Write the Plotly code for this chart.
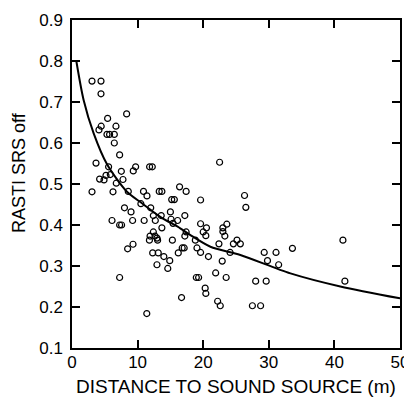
import plotly.graph_objects as go

# Scatter data: distance to sound source (m) and RASTI (SRS off)
distance = [3.05, 4.42, 4.42, 8.33, 5.43, 6.7, 4.45, 4.11, 5.33, 5.73, 6.45, 6.45, 7.26, 3.66, 5.58,
            7.52, 9.34, 9.7, 11.83, 12.24, 4.21, 4.88, 5.18, 5.84, 7.77, 6.75, 3.05, 6.25, 8.58, 10.9,
            11.43, 13.3, 13.7, 16.4, 17.4, 19.6, 15.2, 15.6, 10.5, 12.0, 8.0, 9.0, 15.0, 13.6, 12.4,
            17.2, 6.1, 7.26, 7.56, 9.24, 11.0, 12.7, 15.1, 15.4, 16.1, 19.6, 20.5, 20.0, 20.4, 13.7,
            17.4, 12.4, 11.9, 12.65, 12.96, 11.8, 13.05, 15.3, 17.2, 18.8, 19.05, 19.6, 20.8, 8.48, 9.3,
            12.3, 13.15, 14.0, 12.95, 14.9, 14.6, 16.2, 16.8, 17.1, 7.26, 18.95, 19.3, 20.3, 20.4, 16.7,
            11.4, 22.5, 26.3, 26.5, 23.0, 23.6, 23.0, 23.3, 25.15, 24.6, 25.66, 22.4, 24.1, 22.9, 29.3,
            31.1, 33.6, 29.8, 31.5, 21.9, 23.5, 28.0, 29.6, 22.2, 22.6, 27.5, 28.75, 41.3, 41.6]
rasti = [0.751, 0.751, 0.72, 0.671, 0.66, 0.641, 0.641, 0.632, 0.621, 0.621, 0.621, 0.60, 0.571, 0.551, 0.542,
         0.531, 0.532, 0.542, 0.542, 0.542, 0.512, 0.51, 0.521, 0.523, 0.511, 0.502, 0.481, 0.481, 0.482, 0.482,
         0.471, 0.482, 0.482, 0.493, 0.482, 0.461, 0.462, 0.462, 0.452, 0.442, 0.442, 0.432, 0.432, 0.423, 0.423,
         0.423, 0.411, 0.40, 0.40, 0.411, 0.411, 0.411, 0.414, 0.404, 0.411, 0.403, 0.393, 0.383, 0.374, 0.393,
         0.383, 0.383, 0.373, 0.373, 0.368, 0.363, 0.363, 0.363, 0.373, 0.363, 0.344, 0.333, 0.323, 0.342, 0.353,
         0.332, 0.332, 0.323, 0.303, 0.313, 0.294, 0.332, 0.344, 0.344, 0.272, 0.272, 0.272, 0.246, 0.233, 0.223,
         0.184, 0.553, 0.472, 0.443, 0.393, 0.402, 0.384, 0.373, 0.363, 0.354, 0.354, 0.354, 0.333, 0.312, 0.333,
         0.333, 0.343, 0.313, 0.303, 0.283, 0.272, 0.263, 0.263, 0.214, 0.203, 0.203, 0.203, 0.363, 0.263]

# Fitted curve
curve_x = [0.66, 1.77, 3.29, 5.34, 8.38, 10.67, 13.46, 16.5, 18.0, 21.1, 25.66, 33.3, 40.9, 50.0]
curve_y = [0.80, 0.705, 0.624, 0.548, 0.481, 0.453, 0.42, 0.392, 0.376, 0.347, 0.327, 0.282, 0.25, 0.221]

x_ticks = [0, 10, 20, 30, 40, 50]
y_ticks = [0.1, 0.2, 0.3, 0.4, 0.5, 0.6, 0.7, 0.8, 0.9]

x_title = "DISTANCE TO SOUND SOURCE (m)"
y_title = "RASTI SRS off"

font_family = "Arial, Liberation Sans, Helvetica, sans-serif"

fig = go.Figure()
fig.add_trace(go.Scatter(x=curve_x, y=curve_y, mode="lines",
                         line=dict(color="black", width=2, shape="spline", smoothing=0.8),
                         showlegend=False, hoverinfo="skip"))
fig.add_trace(go.Scatter(x=distance, y=rasti, mode="markers",
                         marker=dict(symbol="circle-open", size=6, color="black", line=dict(width=1.2)),
                         showlegend=False))

axis_common = dict(showgrid=False, zeroline=False, showline=True, linecolor="black", linewidth=1.5,
                   mirror="allticks", ticks="inside", ticklen=8, tickwidth=1.5, tickcolor="black",
                   automargin=False,
                   tickfont=dict(family=font_family, size=17, color="black"))

fig.update_xaxes(range=[0, 50], tickvals=x_ticks, ticktext=[str(v) for v in x_ticks],
                 ticklabelstandoff=-2, **axis_common)
fig.update_yaxes(range=[0.1, 0.9], tickvals=y_ticks, ticktext=[f"{v:.1f}" for v in y_ticks],
                 ticklabelstandoff=4, **axis_common)

fig.add_annotation(text=x_title, xref="paper", yref="paper", x=0.5, y=0, xanchor="center",
                   yanchor="middle", yshift=-38, showarrow=False,
                   font=dict(family=font_family, size=19, color="black"))
fig.add_annotation(text=y_title, xref="paper", yref="paper", x=0, y=0.5, xanchor="center",
                   yanchor="middle", xshift=-53, yshift=11, textangle=-90, showarrow=False,
                   font=dict(family=font_family, size=18, color="black"))

# The page body adds an 8px offset, so the figure is 8px smaller on each side
fig.update_layout(width=404, height=393, margin=dict(l=64, r=12, t=12, b=53),
                  plot_bgcolor="white", paper_bgcolor="white",
                  font=dict(family=font_family, color="black"))

fig.write_html("out.html")
